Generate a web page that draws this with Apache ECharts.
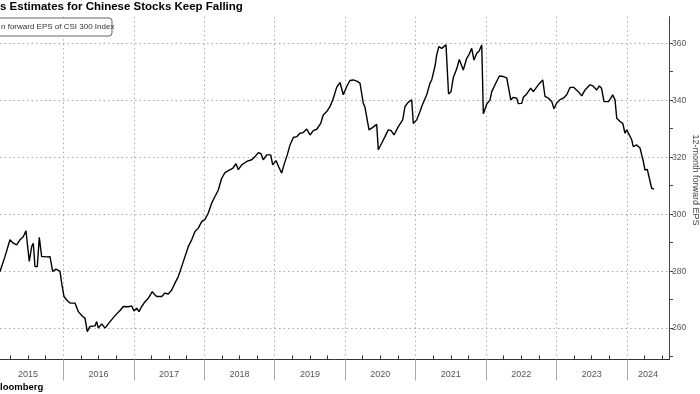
<!DOCTYPE html>
<html><head><meta charset="utf-8">
<script src="https://cdn.jsdelivr.net/npm/echarts@6/dist/echarts.min.js"></script>
<style>html,body{margin:0;padding:0;background:#fff}#c{width:700px;height:394px}</style>
</head><body><div id="c"></div>
<script>
const titleText = "s Estimates for Chinese Stocks Keep Falling";
const legendText = "n forward EPS of CSI 300 Index";
const sourceText = "loomberg";
const axisName = "12-month forward EPS";
const yearBoundaries = [2016, 2017, 2018, 2019, 2020, 2021, 2022, 2023, 2024];
const yearLabelPos = [2015.5, 2016.5, 2017.5, 2018.5, 2019.5, 2020.5, 2021.5, 2022.5, 2023.5, 2024.3];
const yMajorTicks = [260, 280, 300, 320, 340, 360];
const yMinorTicks = [250, 270, 290, 310, 330, 350];
const dates = [
2015.102,2015.172,2015.243,2015.290,2015.338,2015.385,2015.432,2015.470,2015.517,2015.551,
2015.574,2015.598,2015.631,2015.659,2015.693,2015.726,2015.764,2015.811,2015.849,2015.896,
2015.953,2015.977,2016.010,2016.048,2016.095,2016.166,2016.213,2016.275,2016.308,2016.340,
2016.379,2016.450,2016.474,2016.497,2016.545,2016.592,2016.663,2016.734,2016.805,2016.852,
2016.923,2016.971,2017.003,2017.042,2017.074,2017.113,2017.160,2017.207,2017.263,2017.292,
2017.326,2017.397,2017.443,2017.490,2017.539,2017.585,2017.632,2017.680,2017.727,2017.774,
2017.822,2017.869,2017.916,2017.964,2018.011,2018.058,2018.106,2018.153,2018.200,2018.248,
2018.295,2018.342,2018.366,2018.409,2018.451,2018.484,2018.532,2018.603,2018.674,2018.721,
2018.768,2018.806,2018.839,2018.887,2018.944,2018.972,2019.019,2019.066,2019.100,2019.132,
2019.179,2019.218,2019.265,2019.313,2019.360,2019.402,2019.455,2019.502,2019.548,2019.597,
2019.622,2019.654,2019.690,2019.739,2019.786,2019.833,2019.881,2019.928,2019.952,2019.974,
2020.023,2020.069,2020.116,2020.165,2020.211,2020.258,2020.282,2020.339,2020.382,2020.448,
2020.471,2020.519,2020.566,2020.613,2020.651,2020.694,2020.755,2020.817,2020.850,2020.897,
2020.945,2020.968,2021.016,2021.063,2021.087,2021.134,2021.158,2021.205,2021.229,2021.276,
2021.300,2021.330,2021.371,2021.397,2021.432,2021.468,2021.503,2021.536,2021.560,2021.584,
2021.621,2021.645,2021.677,2021.726,2021.758,2021.797,2021.829,2021.868,2021.900,2021.939,
2021.962,2022.010,2022.057,2022.081,2022.128,2022.189,2022.245,2022.294,2022.319,2022.351,
2022.387,2022.436,2022.458,2022.507,2022.529,2022.578,2022.634,2022.671,2022.742,2022.805,
2022.837,2022.884,2022.933,2022.965,2023.003,2023.050,2023.097,2023.145,2023.192,2023.239,
2023.263,2023.310,2023.358,2023.405,2023.476,2023.518,2023.571,2023.608,2023.639,2023.675,
2023.737,2023.760,2023.798,2023.831,2023.855,2023.902,2023.940,2023.973,2023.997,2024.022,
2024.068,2024.090,2024.138,2024.186,2024.207,2024.232,2024.256,2024.289,2024.318,2024.351,
2024.384
];
const eps = [
279.9,285.1,291.0,289.8,289.2,291.0,292.1,294.2,283.4,288.6,
289.8,281.6,281.6,291.9,285.1,285.1,285.0,285.1,279.9,280.7,
279.9,275.8,271.1,269.9,268.8,268.8,265.8,264.1,263.5,258.8,
260.6,260.8,262.3,260.0,261.5,260.0,262.3,264.4,266.2,267.6,
267.5,267.8,266.0,267.0,265.8,267.6,269.3,270.5,272.8,271.9,
271.1,271.1,272.3,272.0,273.4,275.8,278.1,281.6,285.1,288.6,
291.0,293.9,295.1,297.4,298.2,300.4,303.9,306.2,308.5,312.6,
314.6,315.3,315.4,316.2,317.7,315.6,317.3,318.5,319.1,320.2,
321.6,321.2,319.1,320.8,320.8,317.3,318.8,316.1,314.4,317.3,
320.8,324.3,326.9,327.2,328.4,328.6,329.9,327.8,329.3,329.8,
329.3,331.9,334.8,336.0,337.8,340.7,344.6,346.2,346.5,341.9,
344.8,346.9,347.1,346.7,346.0,338.9,337.5,329.6,330.3,331.5,
322.6,324.9,327.2,329.6,329.4,327.8,330.7,333.1,337.8,339.3,
340.1,331.8,333.1,336.0,337.8,340.5,341.9,346.0,347.1,352.0,
355.9,358.8,358.2,358.8,359.4,342.2,343.0,348.0,348.0,351.0,
354.3,354.4,350.6,354.7,356.0,358.2,354.1,356.5,357.2,359.4,
335.2,338.6,340.1,343.0,345.4,348.5,348.3,347.8,347.6,340.1,
341.0,340.7,338.8,338.9,341.0,342.2,344.2,343.0,345.4,347.1,
341.3,340.7,339.5,337.0,339.0,340.2,340.7,341.9,344.4,344.6,
344.6,343.0,341.5,343.6,345.4,345.0,343.6,345.0,344.2,339.5,
339.5,340.3,341.9,340.1,333.7,332.5,331.9,328.4,329.6,329.4,
326.1,323.7,324.3,323.2,322.8,318.5,315.5,315.7,312.6,309.1,
308.8
];
const xMin = 2015.1015, xMax = 2024.597;
const quarterTicks = [];
for (let y = 2015; y <= 2024; y++) { [0.25, 0.5, 0.75].forEach(q => { if (y + q > xMin && y + q < xMax) quarterTicks.push(y + q); }); }

const chart = echarts.init(document.getElementById('c'), null, {renderer: 'canvas'});
const FONT = 'Liberation Sans';
chart.setOption({
  animation: false,
  backgroundColor: '#fff',
  textStyle: {fontFamily: FONT},
  grid: {left: 0, right: 31, top: 16.7, bottom: 34.5, containLabel: false, outerBoundsMode: 'none'},
  graphic: [
    {type: 'text', left: 0, top: 1, style: {text: titleText, font: 'bold 11.5px "Liberation Sans"', fill: '#000'}},
    {type: 'rect', shape: {x: -10, y: 18, width: 122, height: 18, r: 3}, style: {fill: '#fff', stroke: '#666', lineWidth: 1}, z: 10},
    {type: 'text', x: 1, y: 23, style: {text: legendText, font: '8px "Liberation Sans"', fill: '#333'}, z: 11},
    {type: 'text', left: 0, top: 382, style: {text: sourceText, font: 'bold 9.5px "Liberation Sans"', fill: '#000'}},
    {type: 'text', x: 695, y: 180, rotation: -Math.PI / 2,
     style: {text: axisName, font: '9px "Liberation Sans"', fill: '#444', align: 'center', verticalAlign: 'middle'}}
  ],
  xAxis: [
    {
      type: 'value', min: xMin, max: xMax,
      axisLine: {show: true, lineStyle: {color: '#333', width: 1}},
      axisTick: {show: true, customValues: yearBoundaries, length: 21, inside: false, lineStyle: {color: '#aaa'}},
      axisLabel: {show: true, customValues: yearLabelPos, formatter: v => String(Math.floor(v)), color: '#555', fontSize: 9, margin: 11},
      splitLine: {show: true, lineStyle: {color: '#aaa', type: [1.5, 3], width: 1}}
    },
    {
      type: 'value', min: xMin, max: xMax, position: 'bottom',
      axisLine: {show: false},
      axisTick: {show: true, customValues: quarterTicks, length: 4, inside: true, lineStyle: {color: '#333'}},
      axisLabel: {show: false},
      splitLine: {show: false}
    }
  ],
  yAxis: [
    {
      type: 'value', position: 'right', min: 249, max: 369.3,
      axisLine: {show: true, lineStyle: {color: '#444', width: 1}},
      axisTick: {show: true, customValues: yMajorTicks, length: 4, inside: false, lineStyle: {color: '#444'}},
      axisLabel: {show: true, customValues: yMajorTicks, color: '#555', fontSize: 8.5, margin: 3},
      splitLine: {show: true, lineStyle: {color: '#aaa', type: [1.5, 3], width: 1}}
    },
    {
      type: 'value', position: 'right', min: 249, max: 369.3,
      axisLine: {show: false},
      axisTick: {show: true, customValues: yMinorTicks, length: 4, inside: false, lineStyle: {color: '#444'}},
      axisLabel: {show: false},
      splitLine: {show: false}
    }
  ],
  series: [{
    type: 'line', xAxisIndex: 0, yAxisIndex: 0,
    data: dates.map((d, i) => [d, eps[i]]),
    showSymbol: false, symbol: 'none',
    lineStyle: {color: '#000', width: 1.4},
    z: 5
  }]
});
</script></body></html>
